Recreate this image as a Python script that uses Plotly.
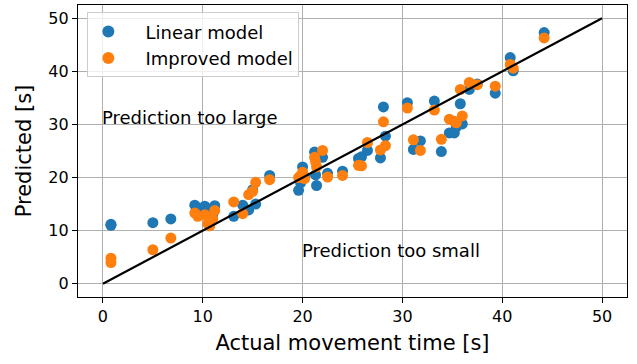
import plotly.graph_objects as go

# Measured movement times and the two models' predictions (seconds)
actual = [0.8, 0.8, 5.0, 6.8, 9.2, 9.5, 10.2, 10.5, 10.7, 11.0, 11.2, 13.1, 14.0, 14.6,
          15.0, 15.3, 16.7, 19.6, 19.8, 20.0, 20.2, 21.2, 21.3, 21.4, 22.0, 22.5, 24.0,
          25.6, 25.9, 26.5, 27.8, 28.1, 28.3, 30.5, 31.1, 31.8, 33.2, 33.9, 34.7, 35.2,
          35.4, 35.8, 36.0, 36.7, 37.5, 39.3, 40.8, 41.1, 44.2]
linear_pred = [11.2, 11.0, 11.5, 12.2, 14.8, 14.3, 14.6, 14.0, 12.3, 13.0, 14.7, 12.7,
               14.8, 13.9, 17.7, 15.0, 20.4, 17.6, 19.0, 22.0, 20.2, 24.8, 20.5, 18.5,
               23.8, 20.8, 21.2, 23.6, 23.9, 25.1, 23.7, 33.3, 27.8, 34.1, 25.3, 26.9,
               34.4, 24.9, 28.4, 28.4, 29.5, 33.9, 30.1, 36.6, 37.6, 35.9, 42.6, 40.1, 47.3]
improved_pred = [4.8, 4.0, 6.4, 8.6, 13.3, 12.7, 13.0, 11.3, 10.9, 12.2, 13.8, 15.4,
                 13.2, 16.8, 17.4, 19.1, 19.6, 20.0, 20.3, 21.0, 19.8, 23.8, 23.0, 22.0,
                 25.1, 20.1, 20.4, 22.3, 22.2, 26.6, 25.2, 30.5, 26.0, 33.1, 27.1, 25.1,
                 32.7, 27.2, 31.0, 30.6, 30.3, 36.6, 31.6, 37.9, 37.5, 37.2, 41.3, 40.6, 46.3]
ideal = [0, 50]
ticks = [0, 10, 20, 30, 40, 50]

font = "DejaVu Sans"
pad = "\u00a0\u00a0\u00a0"

fig = go.Figure()
fig.add_trace(go.Scatter(x=actual, y=linear_pred, mode="markers", name=pad + "Linear model",
                         marker=dict(color="#1f77b4", size=11)))
fig.add_trace(go.Scatter(x=actual, y=improved_pred, mode="markers", name=pad + "Improved model",
                         marker=dict(color="#ff7f0e", size=11)))
fig.add_trace(go.Scatter(x=ideal, y=ideal, mode="lines", showlegend=False,
                         line=dict(color="black", width=2.2)))

fig.add_annotation(x=0, y=31.3, text="Prediction too large", showarrow=False, xshift=-3,
                   xanchor="left", yanchor="middle", font=dict(size=18, color="black", family=font))
fig.add_annotation(x=20, y=6.3, text="Prediction too small", showarrow=False, xshift=-3,
                   xanchor="left", yanchor="middle", font=dict(size=18, color="black", family=font))

axis_style = dict(
    tickvals=ticks, showgrid=True, gridcolor="#b0b0b0", gridwidth=1.3,
    zeroline=False, showline=True, linecolor="black", linewidth=1.2, mirror=True,
    ticks="outside", ticklen=5, tickwidth=1.2, tickcolor="black",
    tickfont=dict(size=16, color="black", family=font),
)

fig.update_layout(
    width=637, height=364,
    margin=dict(l=78, r=10, t=5, b=67),
    plot_bgcolor="white", paper_bgcolor="white",
    font=dict(family=font, color="black"),
    xaxis=dict(range=[-2.5, 52.5], title=dict(text="Actual movement time [s]",
               font=dict(size=21, family=font), standoff=10), **axis_style),
    yaxis=dict(range=[-2.5, 52.5], title=dict(text="Predicted [s]",
               font=dict(size=21, family=font), standoff=10), **axis_style),
    legend=dict(x=0.017, y=0.975, xanchor="left", yanchor="top",
                bgcolor="rgba(255,255,255,0.8)", bordercolor="#cccccc", borderwidth=1,
                font=dict(size=18, family=font), itemsizing="constant",
                tracegroupgap=4),
)

fig.write_html("out.html")
